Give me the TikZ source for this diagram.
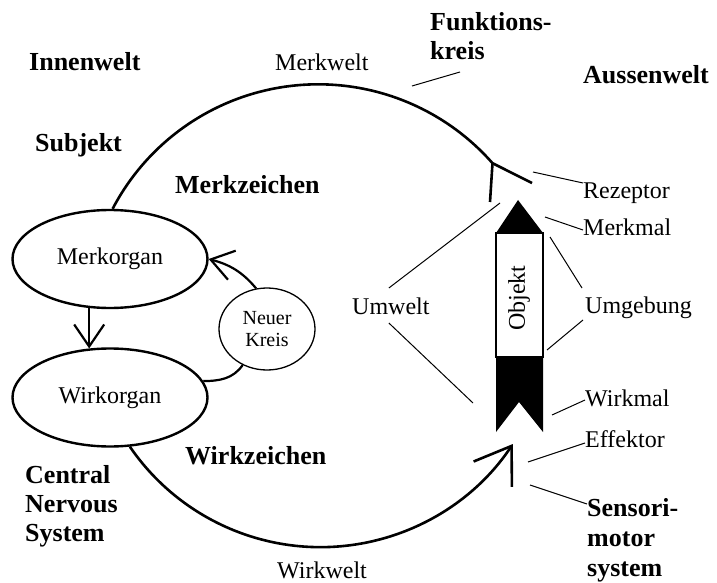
\documentclass[tikz,border=0pt]{standalone}
\usepackage{fontspec}
\setmainfont{Liberation Serif}
\usetikzlibrary{arrows.meta,calc,shapes.geometric}
\begin{document}
\begin{tikzpicture}[x=1pt,y=1pt,
  txt/.style={inner sep=0pt, anchor=base west, font=\fontsize{24}{28}\selectfont},
  head/.style={inner sep=0pt, align=left, anchor=north west, font=\fontsize{26}{29}\selectfont\bfseries},
  organ/.style={draw, ellipse, line width=2.4pt, inner sep=0pt,
    minimum width=195pt, minimum height=98pt, font=\fontsize{24}{28}\selectfont},
  bigarc/.style={line width=2.6pt},
  link/.style={line width=2.2pt},
  pointer/.style={line width=1pt},
  bigbarb/.style={-{Straight Barb[length=34pt,width=46pt]}},
  smallbarb/.style={-{Straight Barb[length=22pt,width=30pt]}}]

\useasboundingbox (0,0) rectangle (717,582);

% organs of the subject
\node[organ] (merk) at (110,323) {Merkorgan};
\node[organ] (wirk) at (110,184.5) {Wirkorgan};
\node[draw, ellipse, line width=1.3pt, inner sep=0pt, minimum width=96pt,
  minimum height=82pt, align=center, font=\fontsize{20}{22}\selectfont]
  (nk) at (267,253) {Neuer\\Kreis};

% inner loop
\draw[link, smallbarb] (merk.247) -- (wirk.113);
\draw[link] (wirk.10) to[out=0, in=235] (nk.236);
\draw[link, smallbarb] (nk.105) to[out=130, in=-15] (merk.east);

% functional circle: perception half with receptor fork
\coordinate (rcpend) at (532,399);
\coordinate (rcpstem) at (490,380);
\draw[bigarc] (merk.87) arc[start angle=152.4, end angle=41.3, radius=232]
  coordinate (rcp) -- (rcpend);
\draw[bigarc] (rcp) -- (rcpstem);

% functional circle: action half ending in the effector
\draw[bigarc, bigbarb] (wirk.292) arc[start angle=214.4, end angle=326.4, radius=231]
  coordinate (eff);

% the object
\fill (518,382) -- (543,349) -- (496,349) -- cycle;
\draw[line width=1.2pt] (496,349) rectangle (543,225);
\fill (496,225) -- (543,225) -- (543,150) -- (519,180) -- (496,150) -- cycle;
\node[rotate=90, inner sep=0pt, font=\fontsize{24}{28}\selectfont] (obj) at (519,284) {Objekt};

% headings
\node[head] (fk) at (430,569.5) {Funktions-\\kreis};
\node[head, anchor=base west] (aw) at (583,498.5) {Aussenwelt};
\node[head, anchor=base west] (iw) at (29,511.5) {Innenwelt};
\node[head, anchor=base west] (sj) at (35,430.5) {Subjekt};
\node[head, anchor=base west] (mz) at (175,388.5) {Merkzeichen};
\node[head, anchor=base west] (wz) at (185,117.5) {Wirkzeichen};
\node[head] (cns) at (25,116.5) {Central\\Nervous\\System};
\node[head, text depth=0pt] (smt) at (587,83.5) {Sensori-\\[1pt]motor\\[1pt]system};

% plain labels
\node[txt] (mw) at (275,511) {Merkwelt};
\node[txt] (ww) at (277,4) {Wirkwelt};
\node[txt] (rez) at (583,384) {Rezeptor};
\node[txt] (mm) at (583,347) {Merkmal};
\node[txt] (umg) at (585,269) {Umgebung};
\node[txt] (umw) at (352,268) {Umwelt};
\node[txt] (wm) at (585,176) {Wirkmal};
\node[txt] (ef) at (585,135) {Effektor};

% pointer lines
\coordinate (fkA) at (412,496);
\coordinate (fkB) at (460,510);
\coordinate (rzA) at (533,410);
\coordinate (mmA) at (545,365);
\coordinate (ugA) at (550,345);
\coordinate (ugB) at (547,232);
\coordinate (uwA) at (500,379);
\coordinate (uwB) at (473,179);
\coordinate (wmA) at (552,167);
\coordinate (efA) at (528,120);
\coordinate (smA) at (530,97);

\draw[pointer] (fkA) -- (fkB);
\draw[pointer] (rzA) -- ($(rez.base west)+(0,15)$);
\draw[pointer] (mmA) -- ($(mm.base west)+(0,5)$);
\draw[pointer] (ugA) -- ($(umg.base west)+(-3,25)$);
\draw[pointer] (ugB) -- ($(umg.base west)+(-2,-7)$);
\draw[pointer] (uwA) -- ($(umw.base)+(-2,26)$);
\draw[pointer] (uwB) -- ($(umw.base)+(-2,-9)$);
\draw[pointer] (wmA) -- ($(wm.base west)+(0,6)$);
\draw[pointer] (efA) -- ($(ef.base west)+(0,4)$);
\draw[pointer] (smA) -- ($(smt.north west)+(0,-5.5)$);
\end{tikzpicture}
\end{document}
